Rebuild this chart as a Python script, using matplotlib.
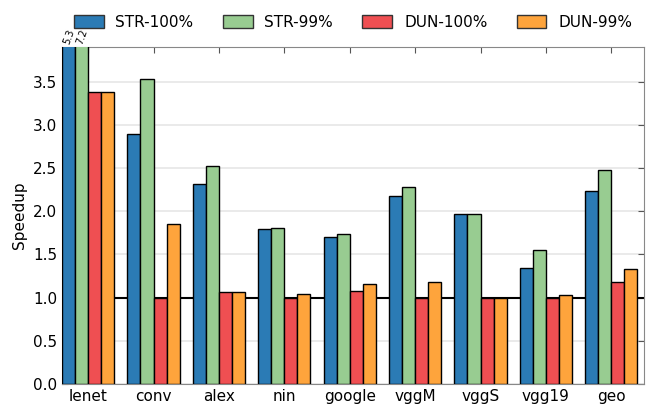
import matplotlib
matplotlib.use("Agg")
import matplotlib.pyplot as plt
import numpy as np

categories = ["lenet", "conv", "alex", "nin", "google", "vggM", "vggS", "vgg19", "geo"]
series_names = ["STR-100%", "STR-99%", "DUN-100%", "DUN-99%"]
str100 = [5.3, 2.89, 2.32, 1.79, 1.70, 2.17, 1.97, 1.34, 2.235]
str99 = [7.2, 3.53, 2.52, 1.81, 1.74, 2.28, 1.97, 1.555, 2.475]
dun100 = [3.38, 1.0, 1.06, 1.0, 1.075, 1.0, 1.0, 1.0, 1.18]
dun99 = [3.38, 1.855, 1.06, 1.04, 1.16, 1.18, 1.0, 1.025, 1.33]
colors = ["#2b7bb5", "#98cc91", "#ef4f52", "#fea43c"]
ymax = 3.9

fig = plt.figure(figsize=(6.48, 4.05), dpi=100)
ax = fig.add_axes([62/648, 1 - 384/405, 582/648, 337/405])

x = np.arange(len(categories))
w = 0.2
allv = [str100, str99, dun100, dun99]
for i, (vals, name, c) in enumerate(zip(allv, series_names, colors)):
    ax.bar(x + (i - 1.5) * w, vals, w, color=c, edgecolor="black", linewidth=1.0,
           label=name, zorder=3)

for i, vals in enumerate(allv):
    for j, v in enumerate(vals):
        if v > ymax:
            ax.text(x[j] + (i - 1.5) * w, ymax + 0.02, f"{v}", rotation=70,
                    ha="center", va="bottom", fontsize=7)

ax.axhline(1.0, color="black", linewidth=1.5, zorder=2)
ax.set_xlim(-0.4, 8.5)
ax.set_ylim(0, ymax)
ax.set_yticks(np.arange(0, 3.51, 0.5))
ax.set_yticklabels([f"{t:.1f}" for t in np.arange(0, 3.51, 0.5)])
ax.set_xticks(x)
ax.set_xticklabels(categories)
ax.yaxis.grid(True, color="#e6e6e6", linewidth=1.2, zorder=0)
ax.set_axisbelow(True)
ax.tick_params(direction="in", top=True, right=True, labelsize=11, length=4, color="#555555")
for s in ax.spines.values():
    s.set_color("#888888")
ax.set_ylabel("Speedup", fontsize=11)

leg = ax.legend(loc="lower center", bbox_to_anchor=(0.5, 1.01), ncol=4, frameon=False,
                fontsize=11, handlelength=1.96, handleheight=0.85, handletextpad=0.78,
                columnspacing=1.9)
for h in leg.legend_handles:
    h.set_edgecolor("#333333")

fig.savefig("out.png", dpi=100)
